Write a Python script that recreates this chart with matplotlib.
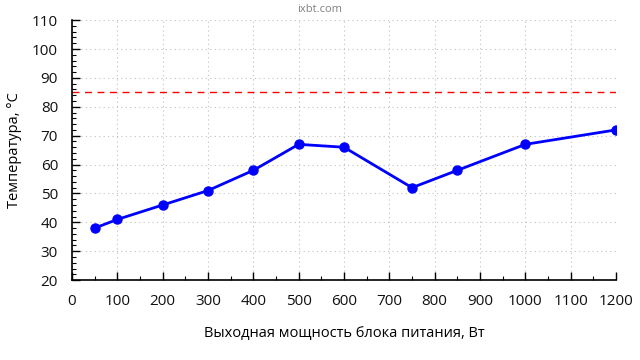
import matplotlib
matplotlib.use("Agg")
import matplotlib.pyplot as plt
from matplotlib.ticker import MultipleLocator

# =================== ДАННЫЕ ===================
power_w = [50, 100, 200, 300, 400, 500, 600, 750, 850, 1000, 1200]
temp_c = [38, 41, 46, 51, 58, 67, 66, 52, 58, 67, 72]
temp_limit = 85

plt.rcParams['font.family'] = ['Open Sans', 'DejaVu Sans']

fig = plt.figure(figsize=(6.4, 3.6), dpi=100)
ax = fig.add_axes([0.1125, 0.222, 0.85, 0.722])

ax.plot([0, 1200], [temp_limit, temp_limit], color='red', lw=1, ls=(0, (5, 4)))
ax.plot(power_w, temp_c, color='#0000ff', lw=2, marker='o', ms=6.5, zorder=3)

ax.set_xlim(0, 1200)
ax.set_ylim(20, 110)
ax.xaxis.set_major_locator(MultipleLocator(100))
ax.xaxis.set_minor_locator(MultipleLocator(50))
ax.yaxis.set_major_locator(MultipleLocator(10))
ax.yaxis.set_minor_locator(MultipleLocator(2))

ax.grid(True, which='major', color='#c0c0c0', ls=(0, (1, 3)), lw=0.8)
for s in ('top', 'right'):
    ax.spines[s].set_visible(False)
for s in ('left', 'bottom'):
    ax.spines[s].set_linewidth(1.2)

ax.tick_params(which='major', direction='in', length=6, width=1, labelsize=11,
               pad=10, labelcolor='#111111')
ax.tick_params(which='minor', direction='in', length=3, width=0.8)
for lbl in ax.get_xticklabels() + ax.get_yticklabels():
    lbl.set_fontweight('medium')

ax.set_xlabel('Выходная мощность блока питания, Вт', fontsize=10.5, labelpad=12,
              fontweight='medium')
ax.set_ylabel('Температура, °C', fontsize=10.5, labelpad=7, fontweight='medium')
fig.text(0.5, 0.975, 'ixbt.com', ha='center', va='center', fontsize=8, color='#808080')

fig.savefig('out.png', dpi=100)
plt.close(fig)
